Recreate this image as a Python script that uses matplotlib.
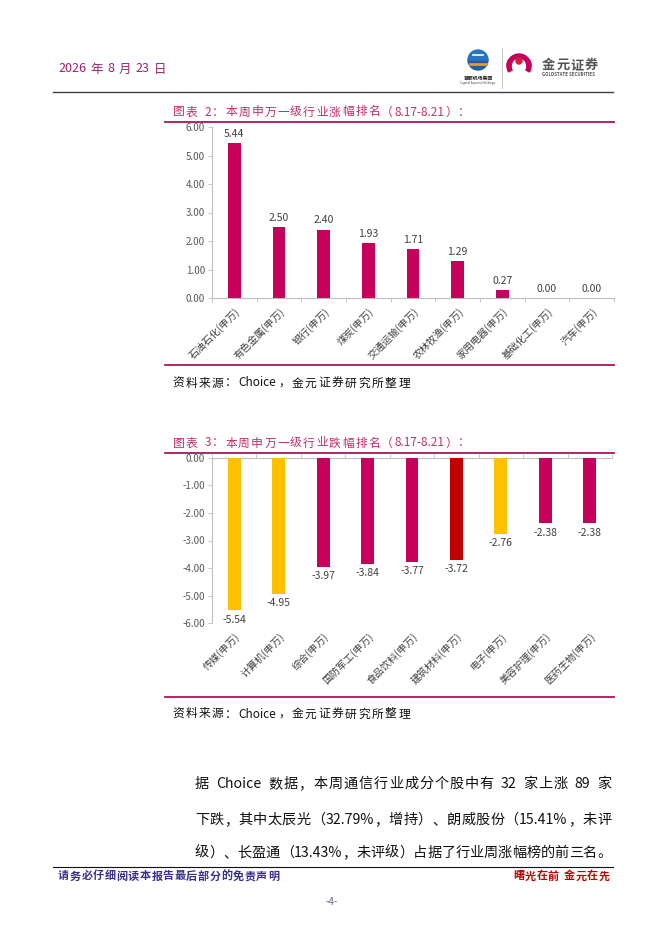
import re
import matplotlib
matplotlib.use('Agg')
import matplotlib.pyplot as plt
from matplotlib.patches import Circle, Wedge
from matplotlib.ticker import FuncFormatter, FixedLocator

plt.rcParams['font.family'] = ['Noto Sans CJK SC', 'DejaVu Sans']

# chart data
up_names = ['石油石化(申万)', '有色金属(申万)', '银行(申万)', '煤炭(申万)', '交通运输(申万)',
            '农林牧渔(申万)', '家用电器(申万)', '基础化工(申万)', '汽车(申万)']
up_values = [5.44, 2.50, 2.40, 1.93, 1.71, 1.29, 0.27, 0.00, 0.00]

down_names = ['传媒(申万)', '计算机(申万)', '综合(申万)', '国防军工(申万)', '食品饮料(申万)',
              '建筑材料(申万)', '电子(申万)', '美容护理(申万)', '医药生物(申万)']
down_values = [-5.54, -4.95, -3.97, -3.84, -3.77, -3.72, -2.76, -2.38, -2.38]

MAGENTA = '#C7005B'
YELLOW = '#FFC000'
DARKRED = '#C00000'
down_colors = [YELLOW, YELLOW, MAGENTA, MAGENTA, MAGENTA, DARKRED, YELLOW, MAGENTA, MAGENTA]

title_up = '图表 2：本周申万一级行业涨幅排名（8.17-8.21）：'
title_down = '图表 3：本周申万一级行业跌幅排名（8.17-8.21）：'
source = '资料来源：Choice，金元证券研究所整理'
body_lines = ['据 Choice 数据，本周通信行业成分个股中有 32 家上涨 89 家',
              '下跌，其中太辰光（32.79%，增持）、朗威股份（15.41%，未评',
              '级）、长盈通（13.43%，未评级）占据了行业周涨幅榜的前三名。']

W, H = 662, 936
fig = plt.figure(figsize=(W / 100, H / 100), dpi=100)
renderer = fig.canvas.get_renderer()

# page layer in pixel coordinates (y downwards)
bg = fig.add_axes([0, 0, 1, 1], zorder=0)
bg.set_xlim(0, W)
bg.set_ylim(H, 0)
bg.set_axis_off()

LINE_C = '#B0135B'
TITLE_C = '#C0306A'


def spread_text(x0, x1, y, s, fontsize=9, **kw):
    # lay a line out token by token so it fills x0..x1 like the spaced page font
    tokens = re.findall(r'[A-Za-z0-9.%\-]+| |.', s)
    items = []
    for t in tokens:
        if t == ' ':
            items.append((None, 0.35 * fontsize * 100 / 72))
            continue
        txt = bg.text(0, y, t, va='center', ha='left', fontsize=fontsize, **kw)
        w = txt.get_window_extent(renderer).width
        items.append((txt, w))
    total = sum(w for _, w in items)
    gap = max((x1 - x0 - total) / (len(items) - 1), 0)
    x = x0
    for txt, w in items:
        if txt is not None:
            txt.set_x(x)
        x += w + gap


# header
spread_text(58, 159, 69, '2026 年 8 月 23 日', fontsize=9, color='#A0206A')
bg.plot([53, 613], [92, 92], color='#3F3D56', lw=1)
bg.add_patch(Wedge((478, 60), 10, 0, 180, color='#1F5FA8'))
bg.add_patch(Wedge((478, 60), 10, 180, 360, color='#2A74C0'))
bg.plot([470, 486], [64, 64], color='#E0A020', lw=2)
bg.plot([473, 483], [55, 55], color='white', lw=1.2)
bg.text(478, 78, '首都机场集团', fontsize=3.5, ha='center', va='center', color='#222222', fontweight='bold')
bg.text(478, 83, 'Capital Airports Holdings', fontsize=2.2, ha='center', va='center', color='#444444')
bg.plot([502, 502], [48, 88], color='#BBBBBB', lw=0.6)
bg.add_patch(Wedge((519, 66), 12, 180, 360, width=4, color=MAGENTA))
bg.add_patch(Wedge((519, 66), 12, 150, 210, width=4, color=MAGENTA))
bg.add_patch(Wedge((519, 66), 12, 330, 30, width=4, color=MAGENTA))
bg.add_patch(Circle((519, 61), 3, color='#D21F3C'))
spread_text(542, 598, 65, '金元证券', fontsize=9.5, color='#555555', fontweight='bold')
bg.text(542, 74, 'GOLDSTATE SECURITIES', fontsize=3.2, color='#555555', va='center', fontweight='bold')


def draw_chart(ax, names, values, colors, negative):
    x = list(range(len(names)))
    ax.bar(x, values, width=0.29, color=colors, zorder=3)
    ax.set_xlim(-0.5, len(names) - 0.5)
    lo, hi = (-6, 0) if negative else (0, 6)
    ax.set_ylim(lo, hi)
    ax.yaxis.set_major_locator(FixedLocator(list(range(lo, hi + 1))))
    ax.yaxis.set_major_formatter(FuncFormatter(lambda v, p: f'{v:.2f}'))
    ax.tick_params(axis='y', labelsize=7, colors='#595959', length=3, width=0.6, color='#BFBFBF', pad=2)
    ax.set_xticks(x)
    ax.set_xticklabels(names, rotation=45, ha='right', rotation_mode='anchor', fontsize=7.2, color='#404040')
    ax.set_xticks([i + 0.5 for i in range(-1, len(names))], minor=True)
    ax.tick_params(axis='x', which='major', length=0, pad=6)
    if negative:
        ax.tick_params(axis='x', which='minor', bottom=False, top=True, length=3,
                       width=0.6, color='#BFBFBF', direction='out')
    else:
        ax.tick_params(axis='x', which='minor', length=3, width=0.6, color='#BFBFBF', direction='out')
    for s in ax.spines.values():
        s.set_color('#BFBFBF')
        s.set_linewidth(0.8)
    ax.spines['right'].set_visible(False)
    ax.spines['bottom' if negative else 'top'].set_visible(False)
    for xi, v in zip(x, values):
        off, va = ((0, -3), 'top') if negative else ((0, 3), 'bottom')
        ax.annotate(f'{v:.2f}', (xi, v), xytext=off, textcoords='offset points',
                    ha='center', va=va, fontsize=7.5, color='#404040')


def px_axes(left, right, top, bottom):
    return fig.add_axes([left / W, 1 - bottom / H, (right - left) / W, (bottom - top) / H], zorder=2)


# chart 1: gains
spread_text(173, 470, 112, title_up, fontsize=8.5, color=TITLE_C)
bg.plot([165, 614], [122, 122], color=LINE_C, lw=1.3)
ax1 = px_axes(212, 614, 127, 298)
draw_chart(ax1, up_names, up_values, MAGENTA, False)
bg.plot([165, 614], [365, 365], color=LINE_C, lw=1.3)
spread_text(172, 410, 383, source, fontsize=8.5, color='#111111')

# chart 2: losses
spread_text(173, 470, 443, title_down, fontsize=8.5, color=TITLE_C)
bg.plot([165, 614], [453, 453], color=LINE_C, lw=1.3)
ax2 = px_axes(212, 612, 458, 623)
draw_chart(ax2, down_names, down_values, down_colors, True)
bg.plot([165, 614], [697, 697], color=LINE_C, lw=1.3)
spread_text(172, 410, 714, source, fontsize=8.5, color='#111111')

# body text
for line, y in zip(body_lines, [784, 820, 853]):
    spread_text(195, 611, y, line, fontsize=10.2, color='#111111')

# footer
bg.plot([53, 613], [867, 867], color='#111111', lw=0.8)
spread_text(58, 279, 876, '请务必仔细阅读本报告最后部分的免责声明', fontsize=8, fontweight='bold',
            color='#3A2F8A')
spread_text(513, 610, 876, '曙光在前 金元在先', fontsize=8, fontweight='bold', color='#C00000')
bg.text(332, 902, '-4-', fontsize=7, color='#6A5F9A', va='center', ha='center')

fig.savefig('out.png', dpi=100)
